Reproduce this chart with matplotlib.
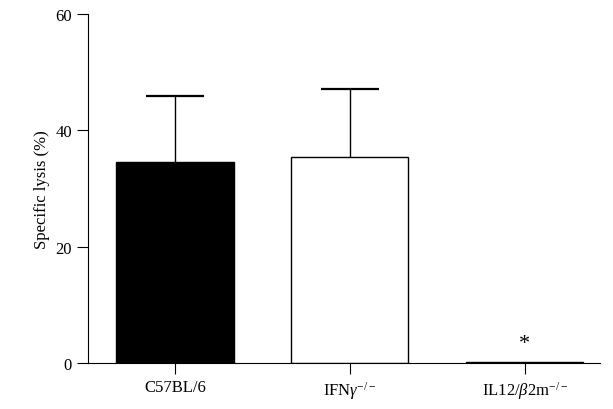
import matplotlib
matplotlib.use('Agg')
import matplotlib.pyplot as plt

plt.rcParams['font.family'] = ['Liberation Serif', 'DejaVu Serif']
plt.rcParams['mathtext.fontset'] = 'custom'
plt.rcParams['mathtext.rm'] = 'Liberation Serif'
plt.rcParams['mathtext.it'] = 'Liberation Serif:italic'

groups = ['C57BL/6', r'IFN$\it{\gamma}^{-/-}$', r'IL12/$\it{\beta}$2m$^{-/-}$']
lysis = [34.6, 35.5, 0.2]
sem = [11.3, 11.7, 0.0]
colors = ['black', 'white', 'white']

fig = plt.figure(figsize=(6.13, 4.10), dpi=100)
ax = fig.add_axes([0.1436, 0.112, 0.835, 0.851])
x = list(range(len(groups)))
ax.bar(x, lysis, width=0.67, color=colors, edgecolor='black', linewidth=1.0, zorder=2)
# upward-only error bars
for xi, m, e in zip(x[:2], lysis[:2], sem[:2]):
    ax.vlines(xi, m, m + e, color='black', linewidth=1.0, zorder=1)
    ax.hlines(m + e, xi - 0.165, xi + 0.165, color='black', linewidth=1.6, zorder=1)
ax.text(2, 1.8, '*', ha='center', va='bottom', fontsize=16)

ax.set_xlim(-0.497, 2.43)
ax.set_ylim(0, 60)
ax.set_yticks([0, 20, 40, 60])
ax.set_xticks(x)
ax.set_xticklabels(groups, fontsize=12)
ax.tick_params(axis='y', labelsize=12, length=8, direction='out')
ax.tick_params(axis='x', length=8, direction='out')
ax.set_ylabel('Specific lysis (%)', fontsize=12)
ax.spines['top'].set_visible(False)
ax.spines['right'].set_visible(False)
fig.savefig('out.png')
